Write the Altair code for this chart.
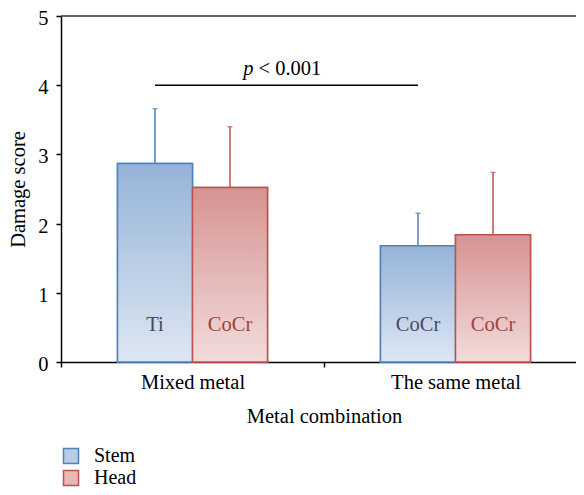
import altair as alt
import pandas as pd

# ---- data ----
groups = ["Mixed metal", "The same metal"]
series = ["Stem", "Head"]
stem_means = [2.87, 1.68]
stem_upper = [3.66, 2.15]
head_means = [2.52, 1.84]
head_upper = [3.40, 2.74]
stem_metal = ["Ti", "CoCr"]
head_metal = ["CoCr", "CoCr"]
y_ticks = [0, 1, 2, 3, 4, 5]
p_italic = "p"
p_rest = "< 0.001"
p_level = [4, 4]
frame_top = [5]

rows = []
for i, g in enumerate(groups):
    rows.append(dict(group=g, series="Stem", mean=stem_means[i], upper=stem_upper[i], metal=stem_metal[i]))
    rows.append(dict(group=g, series="Head", mean=head_means[i], upper=head_upper[i], metal=head_metal[i]))
df = pd.DataFrame(rows)

pline = pd.DataFrame({"group": groups, "series": ["Stem", "Stem"], "mean": p_level})
ptext = pd.DataFrame({"group": [groups[0]], "mean": [p_level[0]], "a": [p_italic], "b": [p_rest]})
top_df = pd.DataFrame({"mean": frame_top})

# ---- styling ----
FONT = "Liberation Serif"
FS = 20.5
W, H = 515, 346
RANGE_W = 526
band = RANGE_W / 2
bar_w = 75
po = (band / bar_w - 2) / 2
stem_center_frac = (po * bar_w + bar_w / 2) / band
mid_band_pos = 0.5 + stem_center_frac

colors = {"Stem": "#4F81BD", "Head": "#C0504D"}
legend_fill = {"Stem": "#B9CDE5", "Head": "#E6B9B8"}
text_colors = {"Stem": "#4B4868", "Head": "#9E4340"}
grads = {
    "Stem": ("#95B3D7", "#DDE7F3"),
    "Head": ("#D69391", "#F2DCDB"),
}


def gradient(top, bottom):
    return {
        "gradient": "linear",
        "x1": 0, "y1": 0, "x2": 0, "y2": 1,
        "stops": [{"offset": 0, "color": top}, {"offset": 1, "color": bottom}],
    }


x_scale = alt.Scale(domain=groups, range=[0, RANGE_W], paddingInner=0, paddingOuter=0)
x_axis = alt.Axis(title="Metal combination", tickBand="extent", labelAngle=0,
                  tickSize=5, labelPadding=5, titlePadding=14)
y_scale = alt.Scale(domain=[0, 5], nice=False)
y_axis = alt.Axis(title="Damage score", values=y_ticks, tickSize=5, labelPadding=8,
                  labelOffset=2.5, titlePadding=9, grid=False)
xo_scale = alt.Scale(domain=series, paddingInner=0, paddingOuter=po)


def X(**kw):
    return alt.X("group:N", scale=x_scale, axis=x_axis, title="Metal combination", **kw)


def XO():
    return alt.XOffset("series:N", scale=xo_scale)


def Y(field="mean"):
    return alt.Y(f"{field}:Q", scale=y_scale, axis=y_axis, title="Damage score")


layers = []

# legend-carrying base bars (covered by gradient bars)
leg = alt.Legend(title=None, orient="none", legendX=0, legendY=430, symbolType="square",
                 symbolSize=225, symbolStrokeWidth=1.5, labelFont=FONT, labelFontSize=20,
                 labelColor="black", labelOffset=13, rowPadding=0, padding=0)
base = alt.Chart(df).mark_bar(strokeWidth=1.5).encode(
    x=X(), xOffset=XO(), y=Y(),
    fill=alt.Fill("series:N", scale=alt.Scale(domain=series, range=[legend_fill[s] for s in series]), legend=leg),
    stroke=alt.Stroke("series:N", scale=alt.Scale(domain=series, range=[colors[s] for s in series]), legend=leg),
)
layers.append(base)

for s in series:
    sub = alt.Chart(df).transform_filter(alt.datum.series == s)
    layers.append(sub.mark_bar(fill=gradient(*grads[s]), stroke=colors[s], strokeWidth=1.5).encode(
        x=X(), xOffset=XO(), y=Y()))
    layers.append(sub.mark_rule(color=colors[s], strokeWidth=1.5).encode(
        x=X(), xOffset=XO(), y=Y(), y2="upper:Q"))
    layers.append(sub.mark_tick(color=colors[s], size=5, thickness=1.5).encode(
        x=X(), xOffset=XO(), y=Y("upper")))
    layers.append(sub.mark_text(font=FONT, fontSize=FS, color=text_colors[s], baseline="alphabetic", dy=-31).encode(
        x=X(), xOffset=XO(), y=alt.Y("zero:Q", scale=y_scale, axis=y_axis, title="Damage score"),
        text="metal:N").transform_calculate(zero="0"))

# top frame line
layers.append(alt.Chart(top_df).mark_rule(color="#333333", strokeWidth=1.5).encode(y=Y()))

# significance line and label
layers.append(alt.Chart(pline).mark_line(color="black", strokeWidth=1.5).encode(
    x=X(), xOffset=XO(), y=Y()))
layers.append(alt.Chart(ptext).mark_text(font=FONT, fontSize=FS, fontStyle="italic", align="right",
                                         baseline="alphabetic", dx=-33, dy=-10, color="black").encode(
    x=X(bandPosition=mid_band_pos), y=Y(), text="a:N"))
layers.append(alt.Chart(ptext).mark_text(font=FONT, fontSize=FS, align="left",
                                         baseline="alphabetic", dx=-28, dy=-10, color="black").encode(
    x=X(bandPosition=mid_band_pos), y=Y(), text="b:N"))

chart = alt.layer(*layers).properties(
    width=W, height=H, background="white",
    autosize=alt.AutoSizeParams(type="none"),
    padding={"left": 53, "top": 8, "right": 0, "bottom": 125},
).configure_view(stroke=None).configure_axis(
    labelFont=FONT, labelFontSize=FS, titleFont=FONT, titleFontSize=FS,
    labelColor="black", titleColor="black", titleFontWeight="normal",
    domainColor="black", tickColor="black", domainWidth=1.5, tickWidth=1.5, grid=False,
)

chart.save("out.html", embed_options={"renderer": "svg", "actions": False})
